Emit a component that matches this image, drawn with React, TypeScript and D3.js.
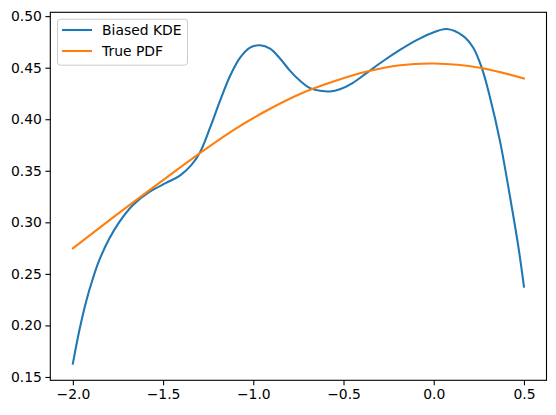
import React, { useEffect, useRef } from 'react';
import * as d3 from 'd3';

// values
const kdeX = [-2.0, -1.963, -1.926, -1.889, -1.853, -1.797, -1.742, -1.668, -1.576, -1.483, -1.409, -1.345, -1.295, -1.239, -1.184, -1.129, -1.073, -1.018, -0.962, -0.907, -0.852, -0.796, -0.741, -0.685, -0.63, -0.575, -0.52, -0.45, -0.371, -0.28, -0.187, -0.1, -0.02, 0.072, 0.164, 0.219, 0.266, 0.312, 0.367, 0.423, 0.469, 0.5];
const kdeY = [0.163, 0.196, 0.2235, 0.2455, 0.2635, 0.2845, 0.3005, 0.3166, 0.3295, 0.3382, 0.345, 0.3552, 0.368, 0.392, 0.418, 0.442, 0.4598, 0.4695, 0.4717, 0.4684, 0.4589, 0.4469, 0.4373, 0.4302, 0.4276, 0.4269, 0.429, 0.435, 0.445, 0.4565, 0.4672, 0.4762, 0.483, 0.4875, 0.4807, 0.4694, 0.45, 0.4211, 0.379, 0.3246, 0.2764, 0.2377];

const pdfX = [-2.0, -1.775, -1.5, -1.317, -1.11, -0.925, -0.741, -0.556, -0.371, -0.187, 0.0, 0.256, 0.5];
const pdfY = [0.2748, 0.305, 0.341, 0.3645, 0.3895, 0.4085, 0.4245, 0.4365, 0.4462, 0.4523, 0.454, 0.45, 0.4395];

const xTicks = [-2.0, -1.5, -1.0, -0.5, 0.0, 0.5];
const yTicks = [0.15, 0.2, 0.25, 0.3, 0.35, 0.4, 0.45, 0.5];
const seriesNames = ['Biased KDE', 'True PDF'];
const seriesColors = ['#1f77b4', '#ff7f0e'];

function App() {
  const ref = useRef<SVGSVGElement>(null);

  useEffect(() => {
    if (!ref.current) return;
    const width = 556;
    const height = 415;
    const margin = { top: 12.3, right: 9.5, bottom: 34.7, left: 50.3 };
    const font = 'DejaVu Sans, sans-serif';

    const svg = d3.select(ref.current);
    svg.selectAll('*').remove();

    const allY = kdeY.concat(pdfY);
    const yMin = d3.min(allY) as number;
    const yMax = d3.max(allY) as number;
    const yPad = (yMax - yMin) * 0.05;
    const xPad = (0.5 - -2.0) * 0.05;

    const x = d3.scaleLinear()
      .domain([-2.0 - xPad, 0.5 + xPad])
      .range([margin.left, width - margin.right]);
    const y = d3.scaleLinear()
      .domain([yMin - yPad, yMax + yPad])
      .range([height - margin.bottom, margin.top]);

    const line = d3.line<[number, number]>()
      .x(d => x(d[0]))
      .y(d => y(d[1]))
      .curve(d3.curveCatmullRom.alpha(0.5));

    const series = [
      kdeX.map((v, i) => [v, kdeY[i]] as [number, number]),
      pdfX.map((v, i) => [v, pdfY[i]] as [number, number]),
    ];

    svg.selectAll('path.series')
      .data(series)
      .join('path')
      .attr('class', 'series')
      .attr('d', d => line(d))
      .attr('fill', 'none')
      .attr('stroke', (d, i) => seriesColors[i])
      .attr('stroke-width', 2.08)
      .attr('stroke-linecap', 'square');

    // axes
    const xAxis = svg.append('g')
      .attr('transform', `translate(0,${height - margin.bottom})`)
      .call(d3.axisBottom(x).tickValues(xTicks).tickFormat(d3.format('.1f')).tickSize(4.9).tickPadding(3.5).tickSizeOuter(0));
    const yAxis = svg.append('g')
      .attr('transform', `translate(${margin.left},0)`)
      .call(d3.axisLeft(y).tickValues(yTicks).tickFormat(d3.format('.2f')).tickSize(4.9).tickPadding(3.5).tickSizeOuter(0));

    [xAxis, yAxis].forEach(g => {
      g.select('.domain').remove();
      g.selectAll('line').attr('stroke', '#000').attr('stroke-width', 1.1);
      g.selectAll('text')
        .attr('fill', '#000')
        .style('font-family', font)
        .style('font-size', '13.9px');
    });

    // frame
    svg.append('rect')
      .attr('x', margin.left)
      .attr('y', margin.top)
      .attr('width', width - margin.left - margin.right)
      .attr('height', height - margin.top - margin.bottom)
      .attr('fill', 'none')
      .attr('stroke', '#000')
      .attr('stroke-width', 1.1);

    // legend
    const legend = svg.append('g');
    legend.append('rect')
      .attr('x', 57.5)
      .attr('y', 19.2)
      .attr('width', 130)
      .attr('height', 46)
      .attr('rx', 3)
      .attr('fill', '#fff')
      .attr('fill-opacity', 0.8)
      .attr('stroke', '#cccccc')
      .attr('stroke-width', 1);

    seriesNames.forEach((name, i) => {
      const cy = 30 + i * 21;
      legend.append('line')
        .attr('x1', 62).attr('x2', 92)
        .attr('y1', cy).attr('y2', cy)
        .attr('stroke', seriesColors[i])
        .attr('stroke-width', 2.08);
      legend.append('text')
        .attr('x', 102)
        .attr('y', cy + 5)
        .attr('fill', '#000')
        .style('font-family', font)
        .style('font-size', '13.9px')
        .text(name);
    });
  }, []);

  return (
    <svg ref={ref} width={556} height={415} style={{ position: 'absolute', left: 0, top: 0, background: '#fff' }}></svg>
  );
}

export default App;
